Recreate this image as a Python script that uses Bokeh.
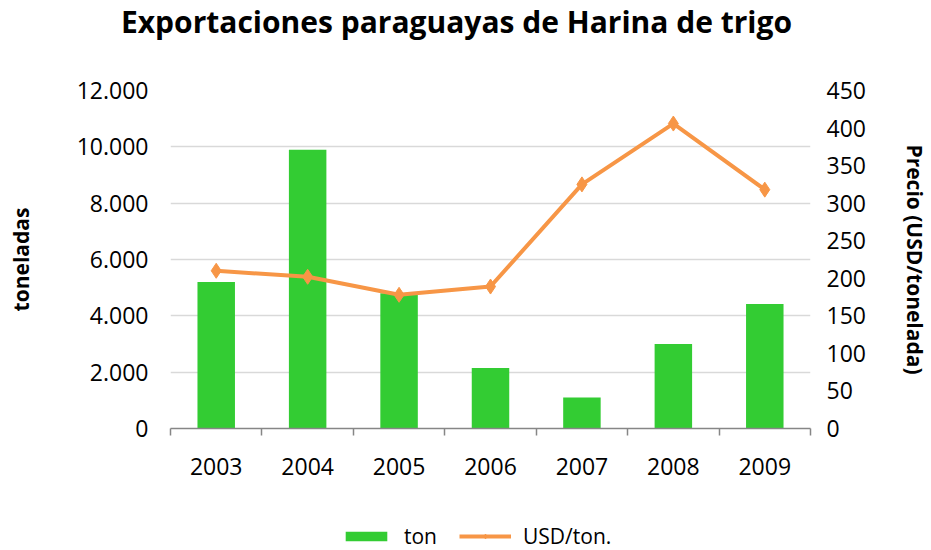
from bokeh.plotting import figure
from bokeh.models import (Range1d, LinearAxis, FixedTicker, Legend, LegendItem, Div)
from bokeh.layouts import column
from bokeh.embed import file_html
from bokeh.resources import INLINE
import numpy as np

title_text = "Exportaciones paraguayas de Harina de trigo"
years = ["2003", "2004", "2005", "2006", "2007", "2008", "2009"]
ton = [5200, 9900, 4800, 2150, 1100, 3000, 4420]
usd_ton = [210, 202, 178, 189, 325, 406, 318]
left_ticks = [0, 2000, 4000, 6000, 8000, 10000, 12000]
left_tick_labels = ["0", "2.000", "4.000", "6.000", "8.000", "10.000", "12.000"]
right_ticks = [0, 50, 100, 150, 200, 250, 300, 350, 400, 450]

FONT = "Open Sans"
BAR_C = "#33CC33"
LINE_C = "#F79646"
xpos = np.arange(len(years)) + 0.5

title_div = Div(text=title_text, width=913, height=45, margin=0,
                styles={"font-family": FONT, "font-size": "30px", "font-weight": "bold",
                        "text-align": "center", "line-height": "44px", "color": "#000000",
                        "width": "913px", "white-space": "nowrap"})

p = figure(width=931, height=455, output_backend="svg", toolbar_location=None,
           x_range=Range1d(0, len(years)), y_range=Range1d(0, 12000),
           min_border_left=170, min_border_right=121, min_border_top=45,
           min_border_bottom=72, outline_line_color=None)
p.extra_y_ranges = {"usd": Range1d(0, 450)}

bars = p.vbar(x=xpos, top=ton, width=0.41, color=BAR_C, line_color=None)
line = p.line(x=xpos, y=usd_ton, y_range_name="usd", line_color=LINE_C, line_width=4)
marks = p.scatter(x=xpos, y=usd_ton, y_range_name="usd", marker="diamond", size=15,
                  fill_color=LINE_C, line_color=LINE_C)

# x axis
xa = p.xaxis[0]
xa.ticker = FixedTicker(ticks=list(xpos), minor_ticks=list(range(len(years) + 1)))
xa.major_label_overrides = {float(v): y for v, y in zip(xpos, years)}
xa.major_tick_line_color = None
xa.minor_tick_in = 0
xa.minor_tick_out = 7
xa.minor_tick_line_color = "#868686"
xa.minor_tick_line_width = 1.5
xa.axis_line_color = "#868686"
xa.axis_line_width = 1.5
xa.major_label_text_font = FONT
xa.major_label_text_font_size = "23px"
xa.major_label_text_color = "#000000"
xa.major_label_standoff = 22

# left axis
ya = p.yaxis[0]
ya.ticker = FixedTicker(ticks=left_ticks)
ya.major_label_overrides = {v: s for v, s in zip(left_ticks, left_tick_labels)}
ya.axis_line_color = None
ya.major_tick_line_color = None
ya.minor_tick_line_color = None
ya.major_label_text_font = FONT
ya.major_label_text_font_size = "23px"
ya.major_label_text_color = "#000000"
ya.major_label_standoff = 16
ya.axis_label = "toneladas"
ya.axis_label_text_font = FONT
ya.axis_label_text_font_size = "21px"
ya.axis_label_text_font_style = "bold"
ya.axis_label_text_color = "#000000"
ya.axis_label_standoff = 39

# right axis
ra = LinearAxis(y_range_name="usd", ticker=FixedTicker(ticks=right_ticks))
ra.axis_line_color = None
ra.major_tick_line_color = None
ra.minor_tick_line_color = None
ra.major_label_text_font = FONT
ra.major_label_text_font_size = "23px"
ra.major_label_text_color = "#000000"
ra.major_label_standoff = 10
ra.axis_label = "Precio (USD/tonelada)"
ra.axis_label_text_font = FONT
ra.axis_label_text_font_size = "21px"
ra.axis_label_text_font_style = "bold"
ra.axis_label_text_color = "#000000"
ra.axis_label_standoff = 32
p.add_layout(ra, "right")

p.xgrid.grid_line_color = None
p.ygrid.grid_line_color = "#D9D9D9"
p.ygrid.grid_line_width = 1.5
p.ygrid.ticker = FixedTicker(ticks=left_ticks[1:])

# legend strip below the chart (its frame is aligned with the chart's frame)
lf = figure(width=931, height=50, output_backend="svg", toolbar_location=None,
            x_range=Range1d(0, 1), y_range=Range1d(0, 1), min_border=0,
            outline_line_color=None)
lf.axis.visible = False
lf.grid.visible = False
lb = lf.vbar(x=[0.5], bottom=[-6], top=[-5], width=0.1, color=BAR_C, line_color=None)
ll = lf.line(x=[0.4, 0.6], y=[-5, -5], line_color=LINE_C, line_width=4)
lm = lf.scatter(x=[0.5], y=[-5], marker="diamond", size=12, fill_color=LINE_C, line_color=LINE_C)
legend = Legend(items=[LegendItem(label="ton", renderers=[lb]),
                       LegendItem(label="USD/ton.", renderers=[ll, lm])],
                orientation="horizontal", location=(170, 0),
                label_text_font=FONT, label_text_font_size="21px",
                label_text_color="#000000", border_line_color=None,
                background_fill_alpha=0, glyph_width=52, glyph_height=12,
                spacing=22, label_standoff=12, margin=0, padding=4)
lf.add_layout(legend)

layout = column(title_div, p, lf, spacing=0)
open("out.html", "w").write(file_html(layout, INLINE))
